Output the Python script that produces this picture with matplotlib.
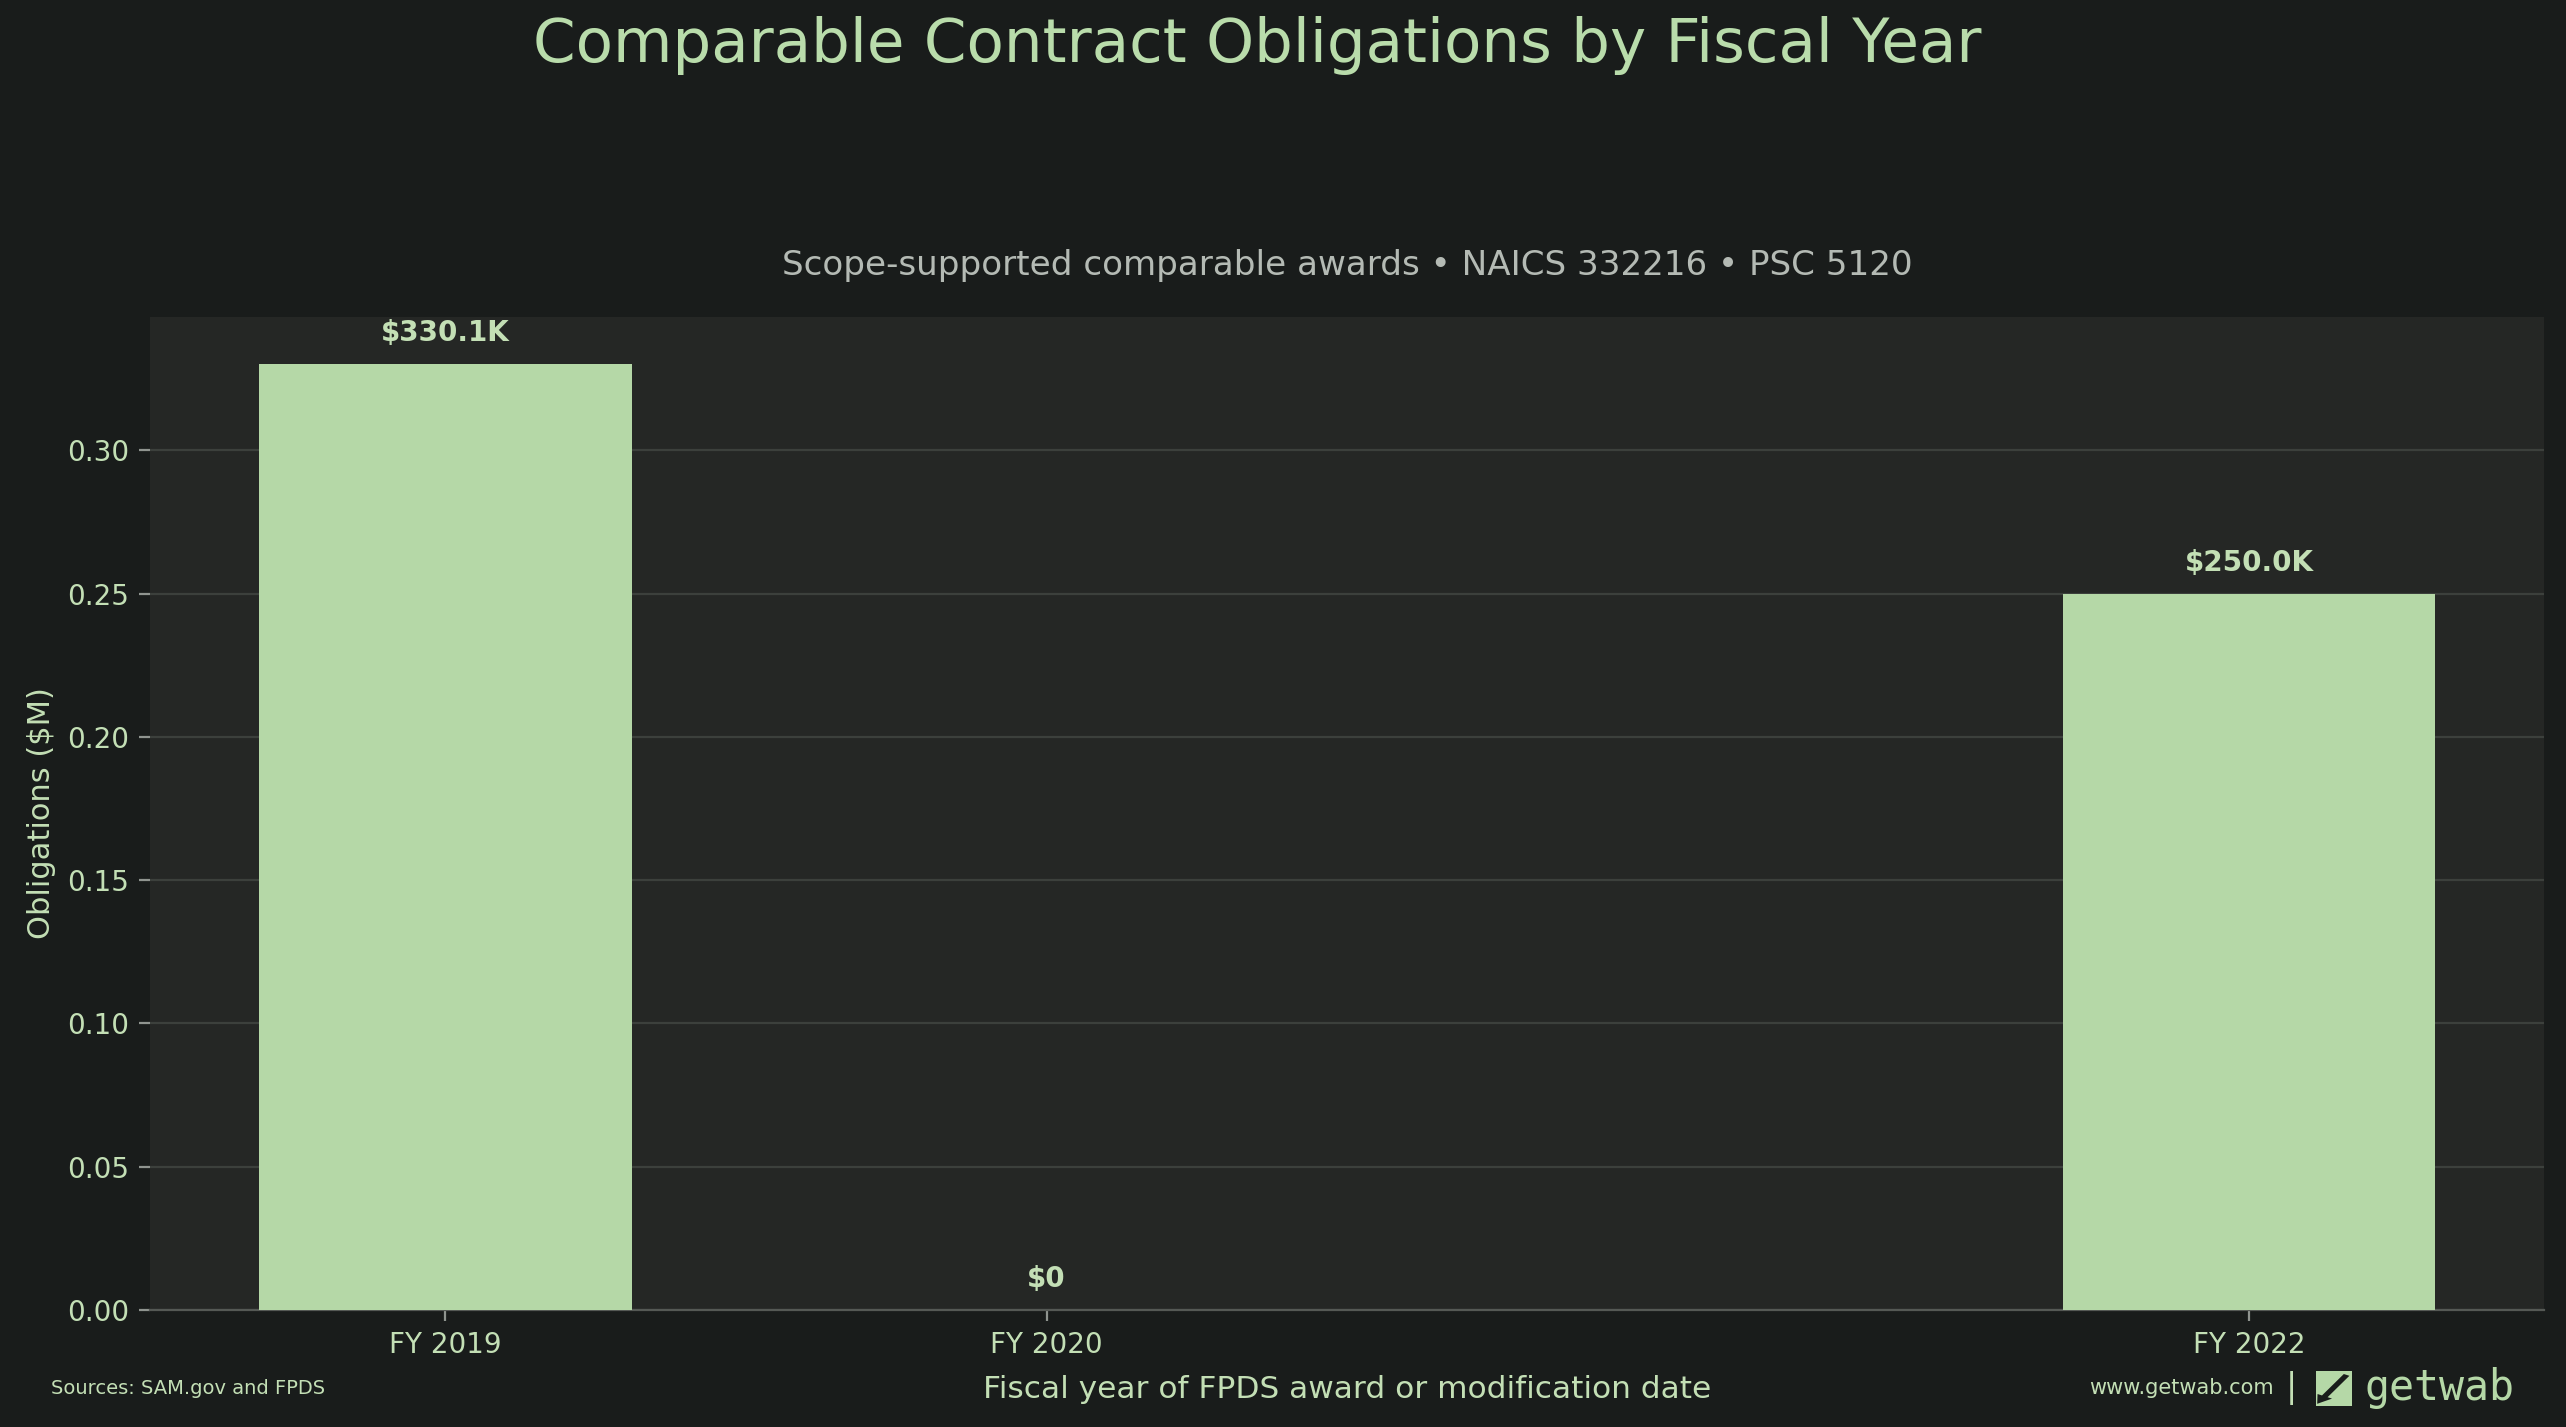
import matplotlib
matplotlib.use("Agg")
import matplotlib.pyplot as plt
from matplotlib.patches import Rectangle, FancyArrow

# data
years = [2019, 2020, 2022]
tick_labels = ["FY 2019", "FY 2020", "FY 2022"]
obligations_m = [0.3301, 0.0, 0.2500]
value_labels = ["$330.1K", "$0", "$250.0K"]

fig_bg = "#191c1b"
ax_bg = "#252725"
green = "#b5d8a7"
text_green = "#c3dfb5"
grey = "#b4bab4"

fig = plt.figure(figsize=(12.83, 7.135), dpi=200, facecolor=fig_bg)
ax = fig.add_axes([0.0585, 0.082, 0.933, 0.696])
ax.set_facecolor(ax_bg)

ax.bar(years, obligations_m, width=0.62, color=green, zorder=3)

ax.set_xticks(years)
ax.set_xticklabels(tick_labels)
ax.grid(axis="y", color="#3c403c", linewidth=0.8, zorder=0)
ax.set_axisbelow(True)
for side in ["top", "right", "left"]:
    ax.spines[side].set_visible(False)
ax.spines["bottom"].set_color("#555955")
ax.tick_params(colors="#8f948f", labelcolor=text_green, labelsize=10, length=4)

top = max(obligations_m)
for x, v, lab in zip(years, obligations_m, value_labels):
    ax.text(x, v + top * 0.018, lab, ha="center", va="bottom",
            fontsize=10, fontweight="bold", color=text_green, zorder=4)

ax.set_ylabel("Obligations ($M)", color=text_green, fontsize=11)
ax.set_xlabel("Fiscal year of FPDS award or modification date", color=text_green, fontsize=11.25, labelpad=6)
ax.set_title("Scope-supported comparable awards \u2022 NAICS 332216 \u2022 PSC 5120",
             color=grey, fontsize=12.3, pad=15)

fig.text(0.49, 0.968, "Comparable Contract Obligations by Fiscal Year",
         ha="center", va="center", fontsize=22, color="#b9dcab")

fig.text(0.020, 0.027, "Sources: SAM.gov and FPDS", ha="left", va="center",
         fontsize=7, color=text_green)
fig.text(0.850, 0.027, "www.getwab.com", ha="center", va="center",
         fontsize=7.5, color=text_green)
fig.text(0.893, 0.027, "|", ha="center", va="center", fontsize=12, color=text_green)

# logo mark
fig.patches.append(Rectangle((0.9025, 0.0145), 0.0140, 0.0250, transform=fig.transFigure,
                             facecolor=green, edgecolor="none"))
fig.patches.append(FancyArrow(0.9145, 0.0365, -0.0085, -0.0150, width=0.0025,
                              head_width=0.0065, head_length=0.006,
                              transform=fig.transFigure, facecolor=fig_bg, edgecolor="none"))
fig.text(0.9215, 0.027, "getwab", ha="left", va="center", fontsize=15,
         family="DejaVu Sans Mono", color=green)

fig.savefig("out.png", dpi=200, facecolor=fig_bg)
